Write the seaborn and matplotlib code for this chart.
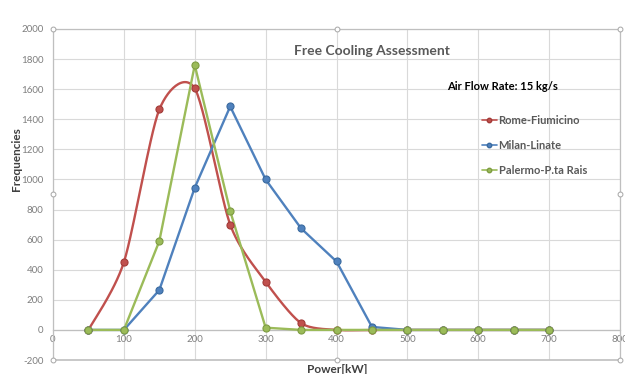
import numpy as np
import pandas as pd
import matplotlib
matplotlib.use("Agg")
import matplotlib.pyplot as plt
import seaborn as sns

# Power bins [kW] and frequency counts per site
power = [50, 100, 150, 200, 250, 300, 350, 400, 450, 500, 550, 600, 650, 700]
rome = [0, 450, 1465, 1605, 700, 320, 45, 0, 0, 0, 0, 0, 0, 0]
milan = [0, 0, 265, 945, 1485, 1000, 675, 455, 20, 0, 0, 0, 0, 0]
palermo = [0, 0, 590, 1760, 790, 15, 0, 0, 0, 0, 0, 0, 0, 0]

series_names = ["Rome-Fiumicino", "Milan-Linate", "Palermo-P.ta Rais"]
series_values = [rome, milan, palermo]
colors = ["#C0504D", "#4F81BD", "#9BBB59"]
edge_colors = ["#A23B38", "#3A6A9F", "#7E9C42"]
smoothed = [True, False, False]

x_ticks = [0, 100, 200, 300, 400, 500, 600, 700, 800]
y_ticks = [-200, 0, 200, 400, 600, 800, 1000, 1200, 1400, 1600, 1800, 2000]


def smooth_curve(x, y, tension=0.13, n=30):
    """Cubic Bezier path through every point, tangents from neighbouring points."""
    x = np.asarray(x, float)
    y = np.asarray(y, float)
    xs, ys = [], []
    for i in range(len(x) - 1):
        p0 = np.array([x[i], y[i]])
        p3 = np.array([x[i + 1], y[i + 1]])
        pm = np.array([x[max(i - 1, 0)], y[max(i - 1, 0)]])
        pp = np.array([x[min(i + 2, len(x) - 1)], y[min(i + 2, len(x) - 1)]])
        c1 = p0 + (p3 - pm) * tension
        c2 = p3 - (pp - p0) * tension
        t = np.linspace(0, 1, n, endpoint=(i == len(x) - 2))[:, None]
        pts = ((1 - t) ** 3) * p0 + 3 * ((1 - t) ** 2) * t * c1 + 3 * (1 - t) * t ** 2 * c2 + t ** 3 * p3
        xs.extend(pts[:, 0])
        ys.extend(pts[:, 1])
    return np.array(xs), np.array(ys)


sns.set_theme(style="white")
plt.rcParams["font.family"] = ["Lato", "DejaVu Sans"]

fig = plt.figure(figsize=(6.25, 3.74), dpi=100)
ax = fig.add_axes([0.0848, 0.0374, 0.9072, 0.8851])

grid_c = "#D9D9D9"
for xv in x_ticks:
    ax.axvline(xv, color=grid_c, lw=0.8, zorder=0)
for yv in y_ticks:
    ax.axhline(yv, color=grid_c, lw=0.8, zorder=0)

for name, vals, col, ecol, smooth in zip(series_names, series_values, colors, edge_colors, smoothed):
    df = pd.DataFrame({"Power": power, "Freq": vals})
    if smooth:
        sx, sy = smooth_curve(power, vals)
        line_df = pd.DataFrame({"Power": sx, "Freq": sy})
    else:
        line_df = df
    sns.lineplot(data=line_df, x="Power", y="Freq", ax=ax, color=col, lw=1.7,
                 sort=False, estimator=None, zorder=3)
    sns.scatterplot(data=df, x="Power", y="Freq", ax=ax, color=col, edgecolor=ecol,
                    linewidth=0.8, s=26, zorder=4)

ax.set_xlim(0, 800)
ax.set_ylim(-200, 2000)
ax.set_xticks(x_ticks)
ax.set_yticks(y_ticks)
ax.set_xticklabels([str(v) for v in x_ticks])
ax.set_yticklabels([str(v) for v in y_ticks])
ax.tick_params(axis="both", length=0, labelsize=7, colors="#7F7F7F")
ax.tick_params(axis="y", pad=7)
ax.tick_params(axis="x", pad=4)

# horizontal axis crosses at zero
ax.spines["bottom"].set_position(("data", 0))
for s in ["bottom", "left", "right", "top"]:
    ax.spines[s].set_color("#BFBFBF")
    ax.spines[s].set_linewidth(0.9)
ax.axhline(-200, color="#BFBFBF", lw=1.2, zorder=1, clip_on=False)

ax.set_xlabel("")
ax.set_ylabel("")
fig.text(0.027, 0.575, "Frequencies", rotation=90, ha="center", va="center",
         fontsize=8.5, fontweight="bold", color="#404040")
fig.text(0.539, 0.013, "Power[kW]", ha="center", va="center",
         fontsize=8.5, fontweight="bold", color="#404040")

ax.text(0.563, 0.935, "Free Cooling Assessment", transform=ax.transAxes, ha="center",
        va="center", fontsize=10, fontweight="bold", color="#595959")
ax.text(0.792, 0.825, "Air Flow Rate: 15 kg/s", transform=ax.transAxes, ha="center",
        va="center", fontsize=8, fontweight="bold", color="black")

handles = [plt.Line2D([], [], color=c, lw=1.2, marker="o", markersize=3.2,
                      markerfacecolor=c, markeredgecolor=e)
           for c, e in zip(colors, edge_colors)]
leg = ax.legend(handles, series_names, loc="upper left", bbox_to_anchor=(0.756, 0.74),
                frameon=False, fontsize=8, handlelength=1.4, handletextpad=0.12,
                labelspacing=1.24, borderaxespad=0, borderpad=0)
for t in leg.get_texts():
    t.set_color("#595959")
    t.set_fontweight("bold")

# chart selection handles
for hx, hy in [(0, 1), (0.5, 1), (1, 1), (0, 0.5), (1, 0.5), (0, 0), (0.5, 0), (1, 0)]:
    ax.plot(hx, hy, marker="o", markersize=3.5, markerfacecolor="white",
            markeredgecolor="#A6A6A6", markeredgewidth=0.7, transform=ax.transAxes,
            clip_on=False, zorder=6)

fig.savefig("out.png", dpi=100)
